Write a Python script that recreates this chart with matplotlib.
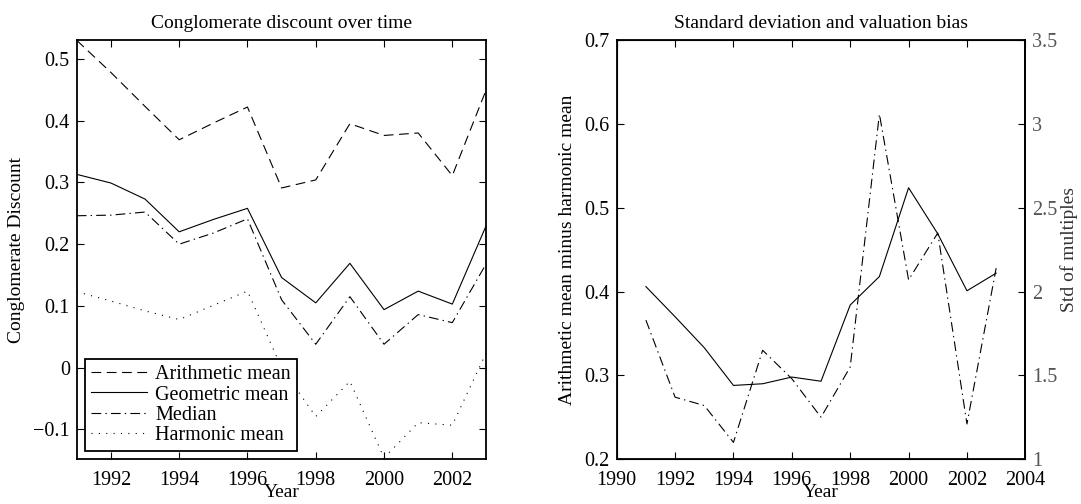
import matplotlib
matplotlib.use('Agg')
import matplotlib.pyplot as plt

plt.rcParams['font.family'] = ['Liberation Serif', 'DejaVu Serif']
plt.rcParams['lines.scale_dashes'] = False
plt.rcParams['axes.unicode_minus'] = True

# Data
years = [1991, 1992, 1993, 1994, 1995, 1996, 1997, 1998, 1999, 2000, 2001, 2002, 2003]

arith = [0.530, 0.478, 0.423, 0.369, 0.396, 0.422, 0.291, 0.304, 0.395, 0.376, 0.380, 0.311, 0.451]
geom = [0.313, 0.299, 0.273, 0.220, 0.240, 0.258, 0.146, 0.105, 0.169, 0.094, 0.124, 0.103, 0.231]
median = [0.246, 0.247, 0.252, 0.200, 0.218, 0.241, 0.110, 0.038, 0.115, 0.038, 0.086, 0.073, 0.169]
harm = [0.123, 0.108, 0.092, 0.078, 0.101, 0.124, 0.000, -0.079, -0.022, -0.146, -0.089, -0.093, 0.025]

am_minus_hm = [0.406, 0.370, 0.333, 0.288, 0.290, 0.298, 0.293, 0.384, 0.418, 0.524, 0.469, 0.401, 0.422]
std_mult = [1.83, 1.37, 1.32, 1.10, 1.65, 1.48, 1.25, 1.55, 3.06, 2.07, 2.35, 1.21, 2.14]

left_yticks = [-0.1, 0, 0.1, 0.2, 0.3, 0.4, 0.5]
left_ylabels = ['\u22120.1', '0', '0.1', '0.2', '0.3', '0.4', '0.5']
left_xticks = [1992, 1994, 1996, 1998, 2000, 2002]
right_xticks = [1990, 1992, 1994, 1996, 1998, 2000, 2002, 2004]
right_yticks = [0.2, 0.3, 0.4, 0.5, 0.6, 0.7]
right_y2ticks = [1, 1.5, 2, 2.5, 3, 3.5]
right_y2labels = ['1', '1.5', '2', '2.5', '3', '3.5']

fig = plt.figure(figsize=(10.81, 5.04), dpi=100)
ax1 = fig.add_axes([0.071, 0.089, 0.379, 0.831])
ax2 = fig.add_axes([0.5705, 0.089, 0.378, 0.831])

lw = 0.8
tick_fs = 14.5
lab_fs = 14

def style(ax):
    for s in ax.spines.values():
        s.set_linewidth(1.3)
    ax.tick_params(direction='in', length=5, width=0.8, labelsize=tick_fs,
                   top=True, right=True, pad=5)
    ax.tick_params(axis='x', pad=8.5)

# Left panel
ax1.plot(years, arith, color='k', lw=lw, dashes=(7, 4), label='Arithmetic mean')
ax1.plot(years, geom, color='k', lw=lw, label='Geometric mean')
ax1.plot(years, median, color='k', lw=lw, dashes=(7, 3, 1, 3), label='Median')
ax1.plot(years, harm, color='k', lw=lw, dashes=(0.8, 4.5), label='Harmonic mean')
ax1.set_xlim(1991, 2003)
ax1.set_ylim(-0.148, 0.530)
ax1.set_xticks(left_xticks)
ax1.set_yticks(left_yticks)
ax1.set_yticklabels(left_ylabels)
style(ax1)
ax1.set_title('Conglomerate discount over time', fontsize=lab_fs, pad=9)
ax1.set_xlabel('Year', fontsize=lab_fs, labelpad=-4)
ax1.set_ylabel('Conglomerate Discount', fontsize=lab_fs, labelpad=6)
leg = ax1.legend(loc='lower left', bbox_to_anchor=(0.02, 0.02), fontsize=tick_fs,
                 frameon=True, fancybox=False, framealpha=1, edgecolor='k',
                 handlelength=2.8, handletextpad=0.4, labelspacing=0.05,
                 borderpad=0.3, borderaxespad=0)
leg.get_frame().set_linewidth(1.3)

# Right panel
ax2.plot(years, am_minus_hm, color='k', lw=lw)
ax2.set_xlim(1990, 2004)
ax2.set_ylim(0.2, 0.7)
ax2.set_xticks(right_xticks)
ax2.set_yticks(right_yticks)
ax2.set_yticklabels([f'{v:g}' for v in right_yticks])
style(ax2)
ax2.tick_params(right=False)
ax2.set_title('Standard deviation and valuation bias', fontsize=lab_fs, pad=9)
ax2.set_xlabel('Year', fontsize=lab_fs, labelpad=-4)
ax2.set_ylabel('Arithmetic mean minus harmonic mean', fontsize=lab_fs, labelpad=6)

ax3 = ax2.twinx()
ax3.plot(years, std_mult, color='k', lw=lw, dashes=(7, 3, 1, 3))
ax3.set_ylim(1, 3.5)
ax3.set_yticks(right_y2ticks)
ax3.set_yticklabels(right_y2labels)
ax3.tick_params(direction='in', length=5, width=0.8, labelsize=tick_fs,
                labelcolor='#555555', pad=5)
ax3.spines['right'].set_linewidth(1.3)
ax3.set_ylabel('Std of multiples', fontsize=lab_fs, color='#333333', labelpad=2)

fig.savefig('out.png', dpi=100)
